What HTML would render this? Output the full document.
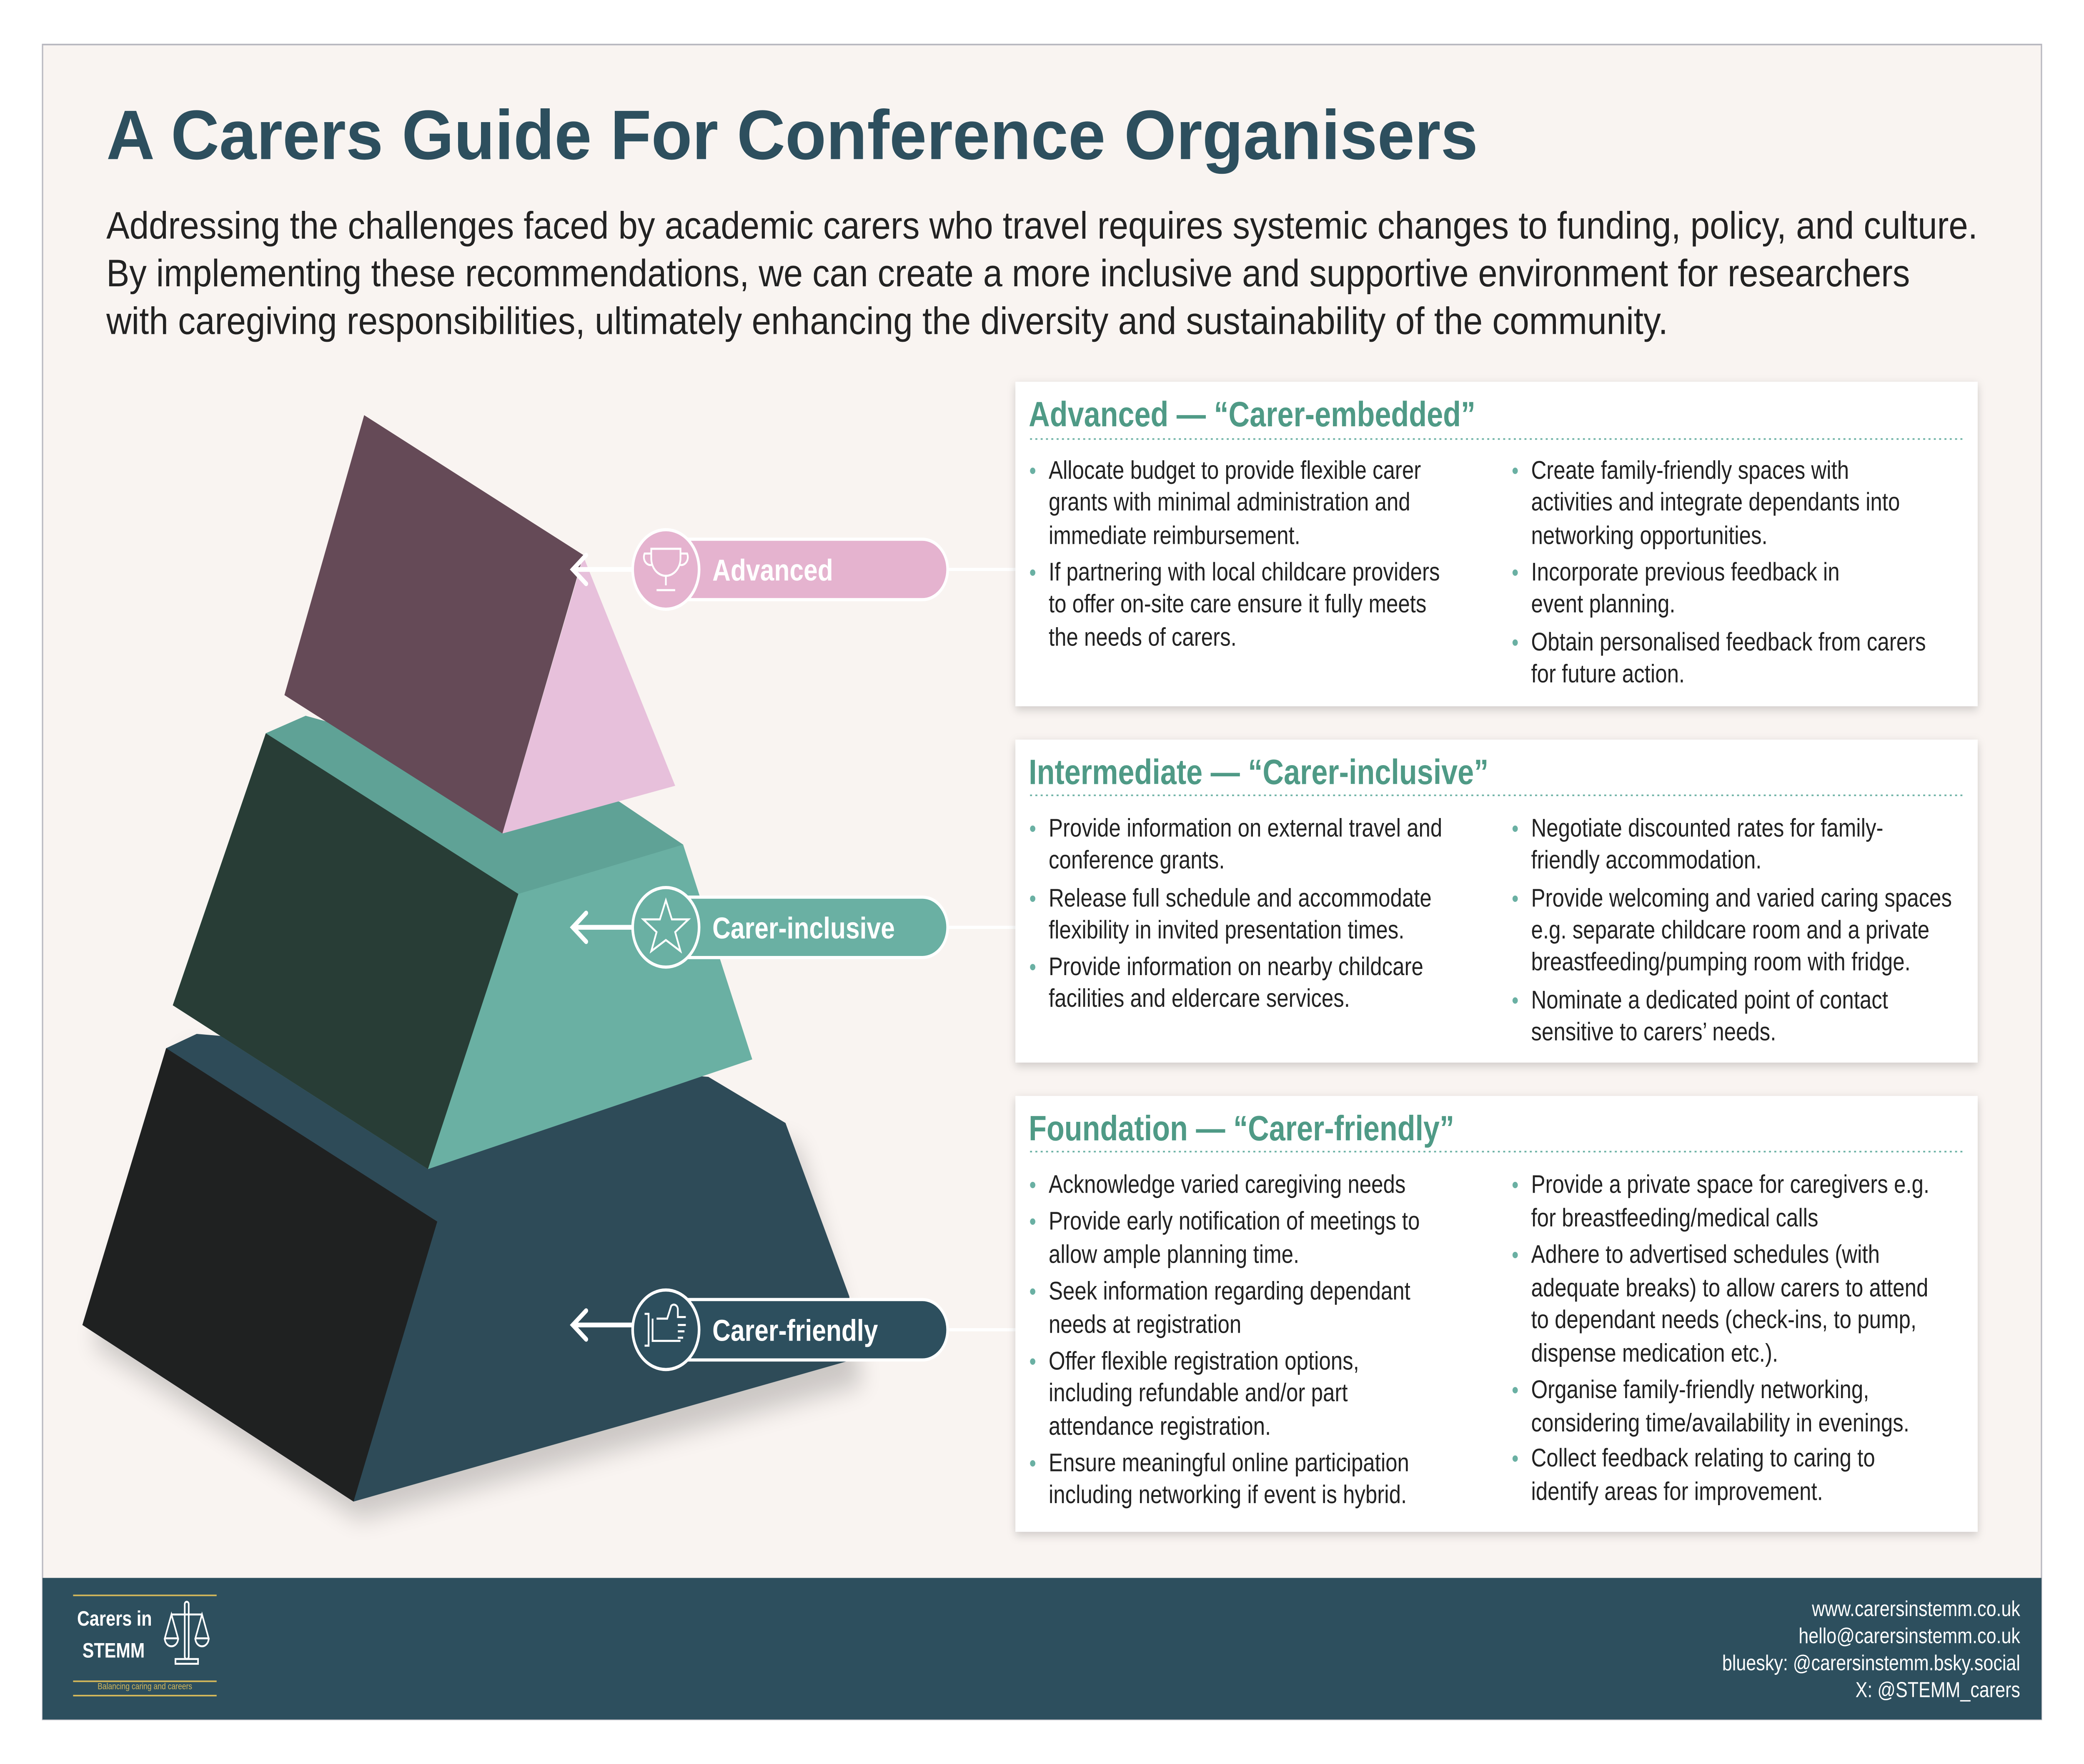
<!DOCTYPE html>
<html><head><meta charset="utf-8"><style>
html,body{margin:0;padding:0;background:#fff;width:100%;height:100%;overflow:hidden}
svg{display:block;position:fixed;left:0;top:0;width:100vw;height:100vh}
text{font-family:"Liberation Sans",sans-serif}
.b{font-size:16px;fill:#222}
.h{font-size:22px;font-weight:bold;fill:#4f9a86}
.d{fill:#6ab0a3}
.pl{font-size:19px;font-weight:bold;fill:#fff}
.f{font-size:13.5px;fill:#fff}
</style></head><body>
<svg viewBox="0 0 1568 1109" preserveAspectRatio="none" xmlns="http://www.w3.org/2000/svg">
<defs>
<filter id="sh" x="-10%" y="-10%" width="120%" height="130%"><feDropShadow dx="0" dy="2" stdDeviation="3" flood-color="#000" flood-opacity="0.18"/></filter>
<filter id="bl" x="-20%" y="-20%" width="140%" height="140%"><feGaussianBlur stdDeviation="8"/></filter>
</defs>
<rect width="1568" height="1109" fill="#fff"/>
<rect x="32" y="28" width="1504" height="1053" fill="#f9f4f1" stroke="#b8b8c0" stroke-width="1"/>
<rect x="32" y="992" width="1504" height="89" fill="#2d4f5e"/>

<text x="80" y="100" font-size="44" font-weight="bold" fill="#2d4f5e" textLength="1032" lengthAdjust="spacingAndGlyphs">A Carers Guide For Conference Organisers</text>
<g font-size="24" fill="#222">
<text x="80" y="150" textLength="1408" lengthAdjust="spacingAndGlyphs">Addressing the challenges faced by academic carers who travel requires systemic changes to funding, policy, and culture.</text>
<text x="80" y="180" textLength="1357" lengthAdjust="spacingAndGlyphs">By implementing these recommendations, we can create a more inclusive and supportive environment for researchers</text>
<text x="80" y="210" textLength="1175" lengthAdjust="spacingAndGlyphs">with caregiving responsibilities, ultimately enhancing the diversity and sustainability of the community.</text>
</g>

<g>
<polygon points="70,845 270,955 650,870 600,720 140,660" fill="#000" opacity="0.18" filter="url(#bl)"/>
<polygon points="148,650 533,677 591,706 639,815 645,854 266,944 62,833 125,659" fill="#2e4b58"/>
<polygon points="125,659 329,768 266,944 62,833" fill="#1f2121"/>
<polygon points="200,461 230,450 514,531 566,666 322,735 130,632" fill="#6ab0a3"/>
<polygon points="230,450 466,504 514,531 390,562 200,461" fill="#5fa296"/>
<polygon points="200,461 390,562 322,735 130,632" fill="#283d36"/>
<polygon points="439,350 508,494 378,524" fill="#e7c0db"/>
<polygon points="274,261 439,349 378,524 214,437" fill="#654a57"/>
</g>

<g stroke="#fff" stroke-width="2">
<line x1="713" y1="358" x2="764" y2="358"/>
<line x1="713" y1="583" x2="764" y2="583"/>
<line x1="713" y1="836" x2="764" y2="836"/>
</g>
<g stroke="#fff" stroke-width="3" fill="none" stroke-linecap="round">
<line x1="431" y1="358" x2="478" y2="358"/><polyline points="441,349 431,358 441,367"/>
<line x1="431" y1="583" x2="478" y2="583"/><polyline points="441,574 431,583 441,592"/>
<line x1="431" y1="833" x2="478" y2="833"/><polyline points="441,824 431,833 441,842"/>
</g>

<g stroke="#fff" stroke-width="2">
<rect x="490" y="339" width="223" height="38" rx="19" fill="#e5b3cf"/>
<circle cx="501" cy="358" r="25" fill="#e5b3cf"/>
<rect x="490" y="564" width="223" height="38" rx="19" fill="#6ab0a3"/>
<circle cx="501" cy="583" r="25" fill="#6ab0a3"/>
<rect x="490" y="817" width="223" height="38" rx="19" fill="#2d4f5e"/>
<circle cx="501" cy="836" r="25" fill="#2d4f5e"/>
</g>
<g stroke="#fff" stroke-width="1.3" fill="none">
<path d="M490,345 h22 v6 a11,11 0 0 1 -22,0 z M490,348 h-5 a5,5 0 0 0 6,7 M512,348 h5 a5,5 0 0 1 -6,7 M501,362 v6 M494,371 h14"/>
<polygon points="501,566 505.5,578 518,578 508,586 512,598 501,591 490,598 494,586 484,578 496.5,578"/>
<path d="M485,826 h3 v20 h-3 M491,829 v14 h21 M494,829 h8 l3,-8 a3,3 0 0 1 5,2 v5 h6 M510,833 h6 M510,837 h5 M510,841 h4"/>
</g>
<text x="536" y="365" class="pl">Advanced</text>
<text x="536" y="590" class="pl">Carer-inclusive</text>
<text x="536" y="843" class="pl">Carer-friendly</text>

<g fill="#fff" filter="url(#sh)">
<rect x="764" y="240" width="724" height="204"/>
<rect x="764" y="465" width="724" height="203"/>
<rect x="764" y="689" width="724" height="274"/>
</g>
<g stroke="#6ab0a3" stroke-width="1" stroke-dasharray="1.5,2.5">
<line x1="775" y1="276" x2="1478" y2="276"/>
<line x1="775" y1="500" x2="1478" y2="500"/>
<line x1="775" y1="724" x2="1478" y2="724"/>
</g>
<text x="774" y="268" class="h">Advanced — “Carer-embedded”</text>
<text x="774" y="493" class="h">Intermediate — “Carer-inclusive”</text>
<text x="774" y="717" class="h">Foundation — “Carer-friendly”</text>

<g class="d">
<circle cx="777" cy="296" r="2"/><circle cx="777" cy="360" r="2"/>
<circle cx="1140" cy="296" r="2"/><circle cx="1140" cy="360" r="2"/><circle cx="1140" cy="404" r="2"/>
<circle cx="777" cy="521" r="2"/><circle cx="777" cy="565" r="2"/><circle cx="777" cy="608" r="2"/>
<circle cx="1140" cy="521" r="2"/><circle cx="1140" cy="565" r="2"/><circle cx="1140" cy="629" r="2"/>
<circle cx="777" cy="745" r="2"/><circle cx="777" cy="768" r="2"/><circle cx="777" cy="812" r="2"/><circle cx="777" cy="856" r="2"/><circle cx="777" cy="920" r="2"/>
<circle cx="1140" cy="745" r="2"/><circle cx="1140" cy="789" r="2"/><circle cx="1140" cy="874" r="2"/><circle cx="1140" cy="917" r="2"/>
</g>
<g class="b">
<text x="789" y="301">Allocate budget to provide flexible carer</text>
<text x="789" y="321">grants with minimal administration and</text>
<text x="789" y="342">immediate reimbursement.</text>
<text x="789" y="365">If partnering with local childcare providers</text>
<text x="789" y="385">to offer on-site care ensure it fully meets</text>
<text x="789" y="406">the needs of carers.</text>
<text x="1152" y="301">Create family-friendly spaces with</text>
<text x="1152" y="321">activities and integrate dependants into</text>
<text x="1152" y="342">networking opportunities.</text>
<text x="1152" y="365">Incorporate previous feedback in</text>
<text x="1152" y="385">event planning.</text>
<text x="1152" y="409">Obtain personalised feedback from carers</text>
<text x="1152" y="429">for future action.</text>

<text x="789" y="526">Provide information on external travel and</text>
<text x="789" y="546">conference grants.</text>
<text x="789" y="570">Release full schedule and accommodate</text>
<text x="789" y="590">flexibility in invited presentation times.</text>
<text x="789" y="613">Provide information on nearby childcare</text>
<text x="789" y="633">facilities and eldercare services.</text>
<text x="1152" y="526">Negotiate discounted rates for family-</text>
<text x="1152" y="546">friendly accommodation.</text>
<text x="1152" y="570">Provide welcoming and varied caring spaces</text>
<text x="1152" y="590">e.g. separate childcare room and a private</text>
<text x="1152" y="610">breastfeeding/pumping room with fridge.</text>
<text x="1152" y="634">Nominate a dedicated point of contact</text>
<text x="1152" y="654">sensitive to carers’ needs.</text>

<text x="789" y="750">Acknowledge varied caregiving needs</text>
<text x="789" y="773">Provide early notification of meetings to</text>
<text x="789" y="794">allow ample planning time.</text>
<text x="789" y="817">Seek information regarding dependant</text>
<text x="789" y="838">needs at registration</text>
<text x="789" y="861">Offer flexible registration options,</text>
<text x="789" y="881">including refundable and/or part</text>
<text x="789" y="902">attendance registration.</text>
<text x="789" y="925">Ensure meaningful online participation</text>
<text x="789" y="945">including networking if event is hybrid.</text>
<text x="1152" y="750">Provide a private space for caregivers e.g.</text>
<text x="1152" y="771">for breastfeeding/medical calls</text>
<text x="1152" y="794">Adhere to advertised schedules (with</text>
<text x="1152" y="815">adequate breaks) to allow carers to attend</text>
<text x="1152" y="835">to dependant needs (check-ins, to pump,</text>
<text x="1152" y="856">dispense medication etc.).</text>
<text x="1152" y="879">Organise family-friendly networking,</text>
<text x="1152" y="900">considering time/availability in evenings.</text>
<text x="1152" y="922">Collect feedback relating to caring to</text>
<text x="1152" y="943">identify areas for improvement.</text>
</g>

<g stroke="#d4b85a" stroke-width="1">
<line x1="55" y1="1003" x2="163" y2="1003"/>
<line x1="55" y1="1057" x2="163" y2="1057"/>
<line x1="55" y1="1066" x2="163" y2="1066"/>
</g>
<text x="58" y="1022" font-size="13" font-weight="bold" fill="#fff">Carers in</text>
<text x="62" y="1042" font-size="13" font-weight="bold" fill="#fff">STEMM</text>
<text x="109" y="1062" font-size="5.5" fill="#d4b85a" text-anchor="middle">Balancing caring and careers</text>
<g stroke="#fff" stroke-width="1.2" fill="none">
<rect x="139" y="1007" width="3" height="36" rx="1.5"/>
<line x1="129" y1="1015" x2="152" y2="1015"/>
<path d="M129,1015 l-5,15 h10 z M152,1015 l-5,15 h10 z"/>
<path d="M124,1030 a5,5 0 0 0 10,0 M147,1030 a5,5 0 0 0 10,0"/>
<rect x="132" y="1043" width="17" height="3"/>
</g>
<g text-anchor="end" class="f">
<text x="1520" y="1016">www.carersinstemm.co.uk</text>
<text x="1520" y="1033">hello@carersinstemm.co.uk</text>
<text x="1520" y="1050">bluesky: @carersinstemm.bsky.social</text>
<text x="1520" y="1067">X: @STEMM_carers</text>
</g>
</svg>
</body></html>
